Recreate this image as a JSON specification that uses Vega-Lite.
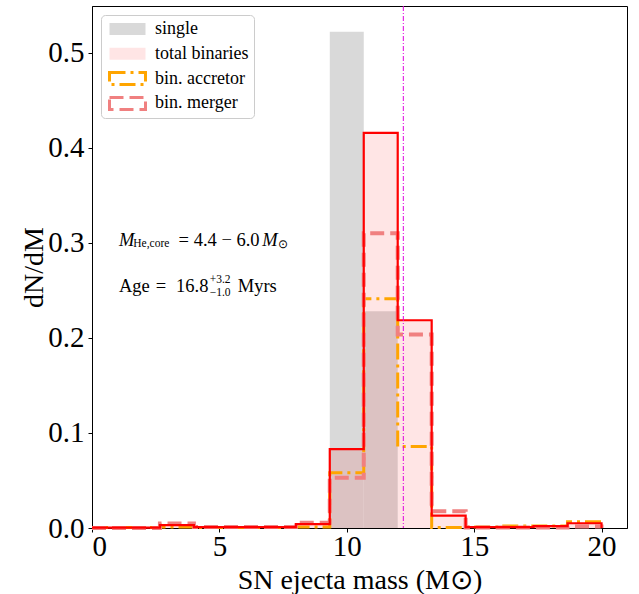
{
  "$schema": "https://vega.github.io/schema/vega-lite/v6.json",
  "width": 535,
  "height": 522,
  "autosize": {"type": "none"},
  "padding": {"left": 92, "top": 6, "right": 12, "bottom": 66},
  "background": "white",
  "config": {
    "font": "Liberation Serif",
    "view": {"stroke": "black", "strokeWidth": 1},
    "legend": {
      "title": null, "orient": "top-left", "offset": 9, "padding": 5, "rowPadding": 6.8, "clipHeight": 18,
      "symbolOffset": 8, "labelOffset": 14,
      "labelFont": "Liberation Serif", "labelFontSize": 18, "labelColor": "black",
      "symbolType": "M-1.5,-0.5H1.5V0.5H-1.5Z", "symbolSize": 576, "symbolStrokeWidth": 3,
      "strokeColor": "#cccccc", "cornerRadius": 4, "fillColor": "rgba(255,255,255,0.85)"
    }
  },
  "datasets": {
    "bins": [
      {"s": "single", "m": 9.3333, "m2": 10.6667, "v": 0.522},
      {"s": "single", "m": 10.6667, "m2": 12.0, "v": 0.228},
      {"s": "total binaries", "m": 0.0, "m2": 1.3333, "v": 0.0005},
      {"s": "total binaries", "m": 1.3333, "m2": 2.6667, "v": 0.0005},
      {"s": "total binaries", "m": 2.6667, "m2": 4.0, "v": 0.003},
      {"s": "total binaries", "m": 4.0, "m2": 5.3333, "v": 0.001},
      {"s": "total binaries", "m": 5.3333, "m2": 6.6667, "v": 0.001},
      {"s": "total binaries", "m": 6.6667, "m2": 8.0, "v": 0.001},
      {"s": "total binaries", "m": 8.0, "m2": 9.3333, "v": 0.004},
      {"s": "total binaries", "m": 9.3333, "m2": 10.6667, "v": 0.083},
      {"s": "total binaries", "m": 10.6667, "m2": 12.0, "v": 0.4155},
      {"s": "total binaries", "m": 12.0, "m2": 13.3333, "v": 0.2185},
      {"s": "total binaries", "m": 13.3333, "m2": 14.6667, "v": 0.013},
      {"s": "total binaries", "m": 14.6667, "m2": 16.0, "v": 0.001},
      {"s": "total binaries", "m": 16.0, "m2": 17.3333, "v": 0.001},
      {"s": "total binaries", "m": 17.3333, "m2": 18.6667, "v": 0.002},
      {"s": "total binaries", "m": 18.6667, "m2": 20.0, "v": 0.005}
    ],
    "steps": [
      {"s": "total binaries", "m": 0.0, "v": 0.0005},
      {"s": "total binaries", "m": 1.3333, "v": 0.0005},
      {"s": "total binaries", "m": 2.6667, "v": 0.003},
      {"s": "total binaries", "m": 4.0, "v": 0.001},
      {"s": "total binaries", "m": 5.3333, "v": 0.001},
      {"s": "total binaries", "m": 6.6667, "v": 0.001},
      {"s": "total binaries", "m": 8.0, "v": 0.004},
      {"s": "total binaries", "m": 9.3333, "v": 0.083},
      {"s": "total binaries", "m": 10.6667, "v": 0.4155},
      {"s": "total binaries", "m": 12.0, "v": 0.2185},
      {"s": "total binaries", "m": 13.3333, "v": 0.013},
      {"s": "total binaries", "m": 14.6667, "v": 0.001},
      {"s": "total binaries", "m": 16.0, "v": 0.001},
      {"s": "total binaries", "m": 17.3333, "v": 0.002},
      {"s": "total binaries", "m": 18.6667, "v": 0.005},
      {"s": "total binaries", "m": 20.0, "v": 0.0},
      {"s": "bin. merger", "m": 0.0, "v": 0.0},
      {"s": "bin. merger", "m": 1.3333, "v": 0.0},
      {"s": "bin. merger", "m": 2.6667, "v": 0.0047},
      {"s": "bin. merger", "m": 4.0, "v": 0.001},
      {"s": "bin. merger", "m": 5.3333, "v": 0.001},
      {"s": "bin. merger", "m": 6.6667, "v": 0.001},
      {"s": "bin. merger", "m": 8.0, "v": 0.0055},
      {"s": "bin. merger", "m": 9.3333, "v": 0.0528},
      {"s": "bin. merger", "m": 10.6667, "v": 0.31},
      {"s": "bin. merger", "m": 12.0, "v": 0.2035},
      {"s": "bin. merger", "m": 13.3333, "v": 0.0177},
      {"s": "bin. merger", "m": 14.6667, "v": 0.0005},
      {"s": "bin. merger", "m": 16.0, "v": 0.0005},
      {"s": "bin. merger", "m": 17.3333, "v": 0.0005},
      {"s": "bin. merger", "m": 18.6667, "v": 0.0015},
      {"s": "bin. merger", "m": 20.0, "v": 0.0},
      {"s": "bin. accretor", "m": 0.0, "v": 0.0005},
      {"s": "bin. accretor", "m": 1.3333, "v": 0.0005},
      {"s": "bin. accretor", "m": 2.6667, "v": 0.001},
      {"s": "bin. accretor", "m": 4.0, "v": 0.0005},
      {"s": "bin. accretor", "m": 5.3333, "v": 0.0005},
      {"s": "bin. accretor", "m": 6.6667, "v": 0.0005},
      {"s": "bin. accretor", "m": 8.0, "v": 0.001},
      {"s": "bin. accretor", "m": 9.3333, "v": 0.058},
      {"s": "bin. accretor", "m": 10.6667, "v": 0.241},
      {"s": "bin. accretor", "m": 12.0, "v": 0.0857},
      {"s": "bin. accretor", "m": 13.3333, "v": 0.0005},
      {"s": "bin. accretor", "m": 14.6667, "v": 0.001},
      {"s": "bin. accretor", "m": 16.0, "v": 0.002},
      {"s": "bin. accretor", "m": 17.3333, "v": 0.002},
      {"s": "bin. accretor", "m": 18.6667, "v": 0.0065},
      {"s": "bin. accretor", "m": 20.0, "v": 0.0}
    ],
    "notes": [
      {"p": "italic", "m": 1.06, "v": 0.297, "t": "M"},
      {"p": "small", "m": 1.62, "v": 0.2955, "t": "He,core"},
      {"p": "main", "m": 3.4, "v": 0.297, "t": "= 4.4 − 6.0"},
      {"p": "italic", "m": 6.68, "v": 0.297, "t": "M"},
      {"p": "small", "m": 7.32, "v": 0.295, "t": "⊙"},
      {"p": "main", "m": 1.06, "v": 0.248, "t": "Age"},
      {"p": "main", "m": 2.5, "v": 0.248, "t": "="},
      {"p": "main", "m": 3.3, "v": 0.248, "t": "16.8"},
      {"p": "small", "m": 4.62, "v": 0.2575, "t": "+3.2"},
      {"p": "small", "m": 4.62, "v": 0.2435, "t": "−1.0"},
      {"p": "main", "m": 5.72, "v": 0.248, "t": "Myrs"}
    ]
  },
  "layer": [
    {
      "data": {"name": "bins"},
      "mark": {"type": "rect"},
      "encoding": {
        "x": {"field": "m", "type": "quantitative", "scale": {"domain": [0, 21], "nice": false, "zero": false},
              "axis": {"values": [0, 5, 10, 15, 20], "title": "SN ejecta mass (M⊙)", "grid": false,
                       "labelFont": "Liberation Serif", "labelFontSize": 29, "labelColor": "black",
                       "titleFont": "Liberation Serif", "titleFontSize": 28, "titleFontWeight": "normal", "titleColor": "black",
                       "domainColor": "black", "tickColor": "black", "tickSize": 4,
                       "labelPadding": 0, "titleY": 60, "titleBaseline": "alphabetic"}},
        "x2": {"field": "m2"},
        "y": {"field": "v", "type": "quantitative", "scale": {"domain": [0, 0.549], "nice": false},
              "axis": {"values": [0, 0.1, 0.2, 0.3, 0.4, 0.5], "format": ".1f", "title": "dN/dM", "grid": false,
                       "labelFont": "Liberation Serif", "labelFontSize": 29, "labelColor": "black",
                       "titleFont": "Liberation Serif", "titleFontSize": 28, "titleFontWeight": "normal", "titleColor": "black",
                       "domainColor": "black", "tickColor": "black", "tickSize": 4,
                       "labelPadding": 4, "titleX": -50, "titleY": 261, "titleAngle": -90, "titleBaseline": "alphabetic", "titleAlign": "center"}},
        "y2": {"datum": 0},
        "fill": {
          "field": "s", "type": "nominal",
          "scale": {"domain": ["single", "total binaries", "bin. accretor", "bin. merger"],
                    "range": ["#d9d9d9", "rgba(255,0,0,0.1)", "rgba(0,0,0,0)", "rgba(0,0,0,0)"]},
          "legend": {"title": null}
        }
      }
    },
    {
      "data": {"name": "steps"},
      "transform": [{"filter": "datum.s === 'bin. accretor'"}],
      "mark": {"type": "line", "interpolate": "step-after", "strokeWidth": 3},
      "encoding": {
        "x": {"field": "m", "type": "quantitative"},
        "y": {"field": "v", "type": "quantitative"},
        "stroke": {
          "field": "s", "type": "nominal",
          "scale": {"domain": ["single", "total binaries", "bin. accretor", "bin. merger"],
                    "range": ["rgba(0,0,0,0)", "rgba(0,0,0,0)", "#ffa500", "#f08080"]},
          "legend": {"title": null}
        },
        "strokeDash": {
          "field": "s", "type": "nominal",
          "scale": {"domain": ["single", "total binaries", "bin. accretor", "bin. merger"],
                    "range": [[1, 0], [1, 0], [16, 5, 3, 5], [14, 6]]},
          "legend": {"title": null}
        }
      }
    },
    {
      "data": {"name": "steps"},
      "transform": [{"filter": "datum.s === 'bin. merger'"}],
      "mark": {"type": "line", "interpolate": "step-after", "strokeWidth": 4},
      "encoding": {
        "x": {"field": "m", "type": "quantitative"},
        "y": {"field": "v", "type": "quantitative"},
        "stroke": {"field": "s", "type": "nominal", "legend": {"title": null}},
        "strokeDash": {"field": "s", "type": "nominal", "legend": {"title": null}}
      }
    },
    {
      "data": {"name": "steps"},
      "transform": [{"filter": "datum.s === 'total binaries'"}],
      "mark": {"type": "line", "interpolate": "step-after", "color": "#ff0000", "strokeWidth": 2.2},
      "encoding": {
        "x": {"field": "m", "type": "quantitative"},
        "y": {"field": "v", "type": "quantitative"}
      }
    },
    {
      "data": {"values": [{"m": 12.22}]},
      "mark": {"type": "rule", "color": "#e000e0", "strokeWidth": 1, "strokeDash": [5, 2, 1, 2]},
      "encoding": {
        "x": {"field": "m", "type": "quantitative"}
      }
    },
    {
      "data": {"name": "notes"},
      "transform": [{"filter": "datum.p === 'main'"}],
      "mark": {"type": "text", "align": "left", "baseline": "alphabetic", "font": "Liberation Serif", "fontSize": 18.5, "color": "black"},
      "encoding": {
        "x": {"field": "m", "type": "quantitative"},
        "y": {"field": "v", "type": "quantitative"},
        "text": {"field": "t"}
      }
    },
    {
      "data": {"name": "notes"},
      "transform": [{"filter": "datum.p === 'italic'"}],
      "mark": {"type": "text", "align": "left", "baseline": "alphabetic", "font": "Liberation Serif", "fontStyle": "italic", "fontSize": 18.5, "color": "black"},
      "encoding": {
        "x": {"field": "m", "type": "quantitative"},
        "y": {"field": "v", "type": "quantitative"},
        "text": {"field": "t"}
      }
    },
    {
      "data": {"name": "notes"},
      "transform": [{"filter": "datum.p === 'small'"}],
      "mark": {"type": "text", "align": "left", "baseline": "alphabetic", "font": "Liberation Serif", "fontSize": 11.5, "color": "black"},
      "encoding": {
        "x": {"field": "m", "type": "quantitative"},
        "y": {"field": "v", "type": "quantitative"},
        "text": {"field": "t"}
      }
    }
  ]
}
